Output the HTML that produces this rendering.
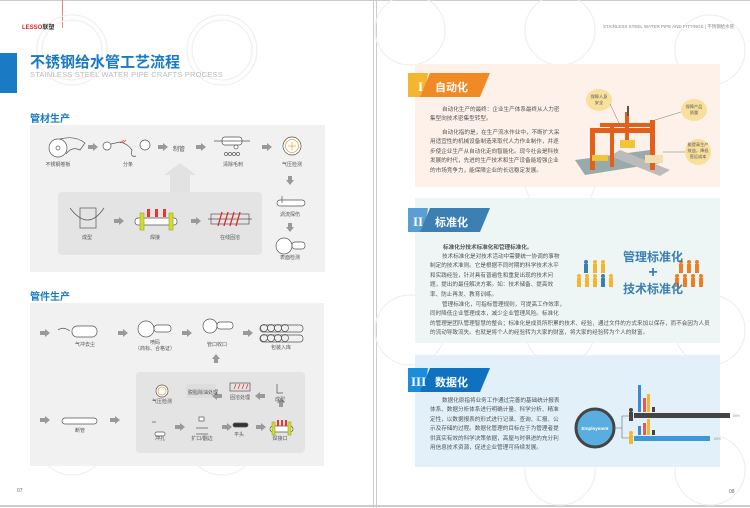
<!DOCTYPE html>
<html><head><meta charset="utf-8">
<style>
*{margin:0;padding:0;box-sizing:border-box}
body{width:750px;height:508px;position:relative;overflow:hidden;background:#fff;font-family:"Liberation Sans","Noto Sans CJK SC",sans-serif;color:#555}
.a{position:absolute}
.lbl{position:absolute;font-size:5px;color:#555;text-align:center;width:50px;margin-left:-25px;line-height:6px}
.t{position:absolute;font-size:5.6px;line-height:9.4px;color:#555}
</style></head><body>
<div class="a" style="left:0;top:0;width:750px;height:1px;background:#ccc"></div>
<div class="a" style="left:0;top:505px;width:750px;height:2px;background:#ccc"></div>
<div class="a" style="left:373px;top:0;width:1px;height:508px;background:#ccc"></div>
<div class="a" style="left:376px;top:0;width:1px;height:508px;background:#ccc"></div>
<div class="a" style="left:62px;top:0;width:1px;height:28px;background:#d88"></div>

<svg class="a" style="left:0;top:0" width="750" height="508">
<g fill="none" stroke="#efefef" stroke-width="1.2">
<circle cx="72" cy="50" r="35"/><circle cx="72" cy="50" r="30"/>
<circle cx="222" cy="50" r="35"/><circle cx="222" cy="50" r="30"/>
<circle cx="72" cy="200" r="35"/><circle cx="222" cy="200" r="35"/>
<circle cx="72" cy="350" r="35"/><circle cx="222" cy="350" r="35"/>
<circle cx="72" cy="440" r="35"/><circle cx="222" cy="440" r="35"/>
<circle cx="410" cy="30" r="35"/><circle cx="560" cy="30" r="35"/><circle cx="710" cy="50" r="35"/>
<circle cx="560" cy="180" r="35"/><circle cx="410" cy="330" r="35"/><circle cx="560" cy="330" r="35"/><circle cx="710" cy="330" r="35"/>
<circle cx="560" cy="470" r="35"/><circle cx="710" cy="470" r="35"/>
</g></svg>

<div class="a" style="left:22px;top:22px;font-size:6px;font-weight:bold;color:#d8262e">LESSO<span style="color:#333">联塑</span></div>
<div class="a" style="left:0;top:53px;width:17px;height:40px;background:#1a7ac4"></div>
<div class="a" style="left:30px;top:51px;font-size:15px;font-weight:bold;color:#1a7ac4">不锈钢给水管工艺流程</div>
<div class="a" style="left:30px;top:70px;font-size:7.5px;color:#bbb;letter-spacing:.2px">STAINLESS STEEL WATER PIPE CRAFTS PROCESS</div>
<div class="a" style="left:30px;top:110px;font-size:10px;font-weight:bold;color:#1a7ac4">管材生产</div>
<div class="a" style="left:30px;top:125px;width:295px;height:147px;background:#f1f1f1"></div>
<div class="a" style="left:58px;top:192px;width:204px;height:63px;background:#e4e4e4;border-radius:4px"></div>
<div class="a" style="left:30px;top:288px;font-size:10px;font-weight:bold;color:#1a7ac4">管件生产</div>
<div class="a" style="left:30px;top:303px;width:294px;height:163px;background:#f1f1f1"></div>
<div class="a" style="left:136px;top:372px;width:169px;height:81px;background:#e4e4e4;border-radius:4px"></div>
<div class="a" style="left:17px;top:488px;font-size:5px;color:#666">07</div>

<svg class="a" style="left:0;top:0" width="375" height="508">
<defs><g id="ar"><rect x="0" y="-2" width="6" height="4" fill="#999"/><polygon points="5,-4 10,0 5,4" fill="#999"/></g>
<g id="ad"><rect x="-2" y="0" width="4" height="5" fill="#999"/><polygon points="-4,4 0,9 4,4" fill="#999"/></g></defs>
<polygon points="170,192 170,175 164,175 180,163 196,175 190,175 190,192" fill="#e2e2e2"/>
<g stroke="#555" stroke-width=".7" fill="#fff">
<circle cx="58" cy="148" r="9"/><circle cx="58" cy="148" r="2"/><path d="M60 139 Q75 135 85 143 L80 150 Q72 146 66 154" fill="none"/>
<circle cx="107" cy="146" r="4"/><path d="M111 144 L120 142 Q128 144 132 150 Q130 158 136 156" fill="none"/><circle cx="145" cy="145" r="5"/>
<line x1="120" y1="143" x2="124" y2="140" stroke="#e33"/><line x1="123" y1="143" x2="126" y2="140" stroke="#e33"/>
<rect x="222" y="137" width="20" height="8" rx="3"/><line x1="214" y1="141" x2="250" y2="141"/><circle cx="236" cy="147" r="2"/>
<circle cx="226" cy="154" r="1.5"/><circle cx="230" cy="154" r="1.5"/><circle cx="234" cy="154" r="1.5"/><circle cx="238" cy="154" r="1.5"/>
<circle cx="292" cy="146" r="9"/><circle cx="292" cy="146" r="6.5" stroke="#e93"/><line x1="288" y1="146" x2="296" y2="146" stroke="#e93"/><line x1="292" y1="142" x2="292" y2="150" stroke="#e93"/>
<rect x="277" y="200" width="28" height="6" rx="3"/><line x1="282" y1="196" x2="282" y2="203"/>
<circle cx="284" cy="246" r="8"/><rect x="292" y="242" width="13" height="7" rx="3"/>
<path d="M70 208 Q88 232 104 208" fill="none"/><rect x="80" y="208" width="16" height="20" fill="none"/>
<rect x="135" y="218" width="42" height="7" rx="3"/><rect x="140" y="213" width="4" height="17" fill="#cd3" stroke="#aa2"/><rect x="169" y="213" width="4" height="17" fill="#cd3" stroke="#aa2"/>
<rect x="147" y="209" width="3" height="8" fill="#e33" stroke="none"/><rect x="155" y="209" width="3" height="8" fill="#e33" stroke="none"/><rect x="163" y="209" width="3" height="8" fill="#e33" stroke="none"/>
<rect x="211" y="214" width="38" height="10" fill="none"/><line x1="208" y1="219" x2="252" y2="219"/>
<path d="M218 226 L222 212 M224 226 L228 212 M230 226 L234 212 M236 226 L240 212" stroke="#e22" stroke-width="1.3"/>
<path d="M58 330 Q63 326 70 331" fill="none"/><rect x="72" y="326" width="25" height="11" rx="5"/>
<circle cx="146" cy="329" r="8"/><rect x="154" y="325" width="17" height="7" rx="3"/>
<circle cx="210" cy="326" r="7"/><rect x="217" y="322" width="16" height="7" rx="3"/>
<g fill="none"><rect x="260" y="325" width="43" height="7" rx="3"/><rect x="260" y="335" width="43" height="7" rx="3"/>
<circle cx="264" cy="328" r="3.5"/><circle cx="271" cy="328" r="3.5"/><circle cx="278" cy="328" r="3.5"/><circle cx="285" cy="328" r="3.5"/>
<circle cx="264" cy="338" r="3.5"/><circle cx="271" cy="338" r="3.5"/><circle cx="278" cy="338" r="3.5"/><circle cx="285" cy="338" r="3.5"/></g>
<circle cx="162" cy="391" r="6"/><circle cx="162" cy="391" r="4" stroke="#e93"/>
<rect x="186" y="384" width="30" height="14" rx="2" fill="#ddd" stroke="none"/>
<rect x="230" y="383" width="20" height="8" fill="none"/><path d="M234 389 L236 384 M238 389 L240 384 M242 389 L244 384 M246 389 L248 384" stroke="#e22"/>
<path d="M277 384 L277 393 L283 393" fill="none"/>
<rect x="62" y="418" width="35" height="6" rx="3"/>
<rect x="155" y="432" width="10" height="4" rx="2"/><line x1="152" y1="422" x2="156" y2="422"/>
<line x1="196" y1="428" x2="208" y2="428"/><line x1="196" y1="434" x2="208" y2="434"/><rect x="199" y="417" width="5" height="4"/>
<rect x="233" y="423" width="15" height="4" rx="2" fill="#333"/>
<rect x="270" y="426" width="23" height="6" rx="3"/><rect x="272" y="422" width="3" height="13" fill="#cd3" stroke="#aa2"/><rect x="288" y="422" width="3" height="13" fill="#cd3" stroke="#aa2"/>
<rect x="277" y="420" width="2" height="6" fill="#e33" stroke="none"/><rect x="281" y="420" width="2" height="6" fill="#e33" stroke="none"/><rect x="285" y="420" width="2" height="6" fill="#e33" stroke="none"/>
</g>
<use href="#ar" x="88" y="147"/><use href="#ar" x="158" y="147"/><use href="#ar" x="196" y="147"/><use href="#ar" x="262" y="147"/>
<use href="#ad" x="290" y="176"/><use href="#ad" x="290" y="223"/>
<use href="#ar" x="114" y="221"/><use href="#ar" x="191" y="221"/>
<use href="#ar" x="40" y="333"/><use href="#ar" x="118" y="333"/><use href="#ar" x="182" y="333"/><use href="#ar" x="243" y="333"/>
<g transform="rotate(180 216 358)"><use href="#ad" x="216" y="353"/></g>
<use href="#ar" x="212" y="396" transform="rotate(180 217 396)"/>
<use href="#ar" x="255" y="396" transform="rotate(180 260 396)"/>
<use href="#ar" x="40" y="420"/><use href="#ar" x="110" y="420"/><use href="#ar" x="175" y="427"/><use href="#ar" x="222" y="427"/><use href="#ar" x="256" y="427"/>
<g transform="rotate(180 281 403)"><use href="#ad" x="281" y="399"/></g>
</svg>
<div class="lbl" style="left:58px;top:162px">不锈钢卷板</div>
<div class="lbl" style="left:128px;top:162px">分条</div>
<div class="a" style="left:173px;top:144px;font-size:6px">制管</div>
<div class="lbl" style="left:233px;top:162px">清除毛刺</div>
<div class="lbl" style="left:292px;top:162px">气压检测</div>
<div class="lbl" style="left:290px;top:212px">涡流探伤</div>
<div class="lbl" style="left:290px;top:255px">表面检测</div>
<div class="lbl" style="left:87px;top:235px">成型</div>
<div class="lbl" style="left:155px;top:235px">焊接</div>
<div class="lbl" style="left:230px;top:235px">在线固溶</div>
<div class="lbl" style="left:85px;top:342px">气冲去尘</div>
<div class="lbl" style="left:155px;top:340px">喷码<br>（商标、合格证）</div>
<div class="lbl" style="left:217px;top:342px">管口收口</div>
<div class="lbl" style="left:281px;top:345px">包装入库</div>
<div class="lbl" style="left:162px;top:399px">气压检测</div>
<div class="a" style="left:188px;top:389px;font-size:5px">脱脂除油处理</div>
<div class="lbl" style="left:240px;top:395px">固溶处理</div>
<div class="lbl" style="left:280px;top:397px">成型</div>
<div class="lbl" style="left:80px;top:428px">断管</div>
<div class="lbl" style="left:160px;top:436px">冲孔</div>
<div class="lbl" style="left:202px;top:436px">扩口/翻边</div>
<div class="lbl" style="left:239px;top:432px">平头</div>
<div class="lbl" style="left:280px;top:436px">焊接口</div>

<div class="a" style="left:603px;top:24px;font-size:4.5px;color:#888">STAINLESS STEEL WATER PIPE AND FITTINGS | 不锈钢给水管</div>
<div class="a" style="left:415px;top:64px;width:305px;height:123px;background:#fdf1e9"></div>
<div class="a" style="left:415px;top:198px;width:305px;height:145px;background:#eef6f5"></div>
<div class="a" style="left:415px;top:355px;width:305px;height:112px;background:#e1f0f9"></div>

<svg class="a" style="left:0;top:0" width="750" height="508">
<polygon points="408,73 428,73 424,97 408,97" fill="#f5b52f"/><polygon points="430,73 490,73 480,97 420,97" fill="#f08a24"/>
<polygon points="408,208 428,208 424,232 408,232" fill="#5a9fd4"/><polygon points="430,208 490,208 480,232 420,232" fill="#3b7fb3"/>
<polygon points="408,368 428,368 424,392 408,392" fill="#1a8ed9"/><polygon points="430,368 490,368 480,392 420,392" fill="#0f72c0"/>
<text x="418" y="91" font-size="13" font-weight="bold" fill="#fff" font-family="Liberation Serif">I</text>
<text x="413" y="226" font-size="13" font-weight="bold" fill="#fff" font-family="Liberation Serif">II</text>
<text x="411" y="386" font-size="13" font-weight="bold" fill="#fff" font-family="Liberation Serif">III</text>
<polygon points="575,160 650,150 660,163 585,175" fill="#9aa"/>
<polygon points="620,150 670,170 660,176 610,156" fill="#bbb"/>
<g fill="#e0601c"><rect x="590" y="130" width="5" height="40"/><rect x="610" y="125" width="4" height="42"/><rect x="650" y="120" width="5" height="50"/>
<rect x="590" y="128" width="65" height="5"/><rect x="625" y="112" width="4" height="35"/><rect x="600" y="123" width="55" height="4"/></g>
<rect x="627" y="106" width="2" height="10" fill="#555"/>
<rect x="620" y="140" width="15" height="8" fill="#f2c43a"/><rect x="592" y="155" width="16" height="6" fill="#f2c43a"/>
<rect x="645" y="155" width="18" height="8" fill="#f3deb0"/>
<g fill="#f8df9c"><ellipse cx="599" cy="100" rx="13" ry="11"/><ellipse cx="694" cy="110" rx="13" ry="11"/><ellipse cx="698" cy="152" rx="13" ry="13"/></g>
<g stroke="#777" stroke-width=".5"><line x1="610" y1="104" x2="620" y2="125"/><line x1="681" y1="112" x2="655" y2="120"/><line x1="685" y1="152" x2="663" y2="152"/></g>
<g font-size="4.2" fill="#555" text-anchor="middle"><text x="599" y="98">保障人身</text><text x="599" y="104">安全</text>
<text x="694" y="108">保障产品</text><text x="694" y="114">质量</text><text x="698" y="146">能提高生产</text><text x="698" y="152">效益，降低</text><text x="698" y="158">营运成本</text></g>
<g fill="#3d7eb0"><circle cx="586" cy="262" r="2"/><rect x="584" y="264" width="4" height="9"/><circle cx="603" cy="276" r="2"/><rect x="601" y="278" width="4" height="9"/></g>
<g fill="#f5b52f"><circle cx="595" cy="262" r="2"/><rect x="593" y="264" width="4" height="9"/><circle cx="603" cy="262" r="2"/><rect x="601" y="264" width="4" height="9"/>
<circle cx="579" cy="276" r="2"/><rect x="577" y="278" width="4" height="9"/><circle cx="587" cy="276" r="2"/><rect x="585" y="278" width="4" height="9"/><circle cx="595" cy="276" r="2"/><rect x="593" y="278" width="4" height="9"/><circle cx="611" cy="276" r="2"/><rect x="609" y="278" width="4" height="9"/></g>
<g fill="#ef7d22"><circle cx="681" cy="262" r="2"/><rect x="679" y="264" width="4" height="9"/><circle cx="689" cy="262" r="2"/><rect x="687" y="264" width="4" height="9"/><circle cx="697" cy="262" r="2"/><rect x="695" y="264" width="4" height="9"/>
<circle cx="677" cy="276" r="2"/><rect x="675" y="278" width="4" height="9"/><circle cx="685" cy="276" r="2"/><rect x="683" y="278" width="4" height="9"/><circle cx="693" cy="276" r="2"/><rect x="691" y="278" width="4" height="9"/><circle cx="701" cy="276" r="2"/><rect x="699" y="278" width="4" height="9"/></g>
<circle cx="595" cy="428" r="19" fill="#5aaedf" stroke="#444" stroke-width="3"/>
<text x="595" y="430" font-size="4.5" font-weight="bold" fill="#fff" text-anchor="middle">Employment</text>
<path d="M614 428 L622 428 M622 416 L622 438 M622 416 L630 416 M622 438 L630 438" stroke="#666" stroke-width=".6" fill="none"/>
<rect x="634" y="413" width="96" height="5" fill="#444"/><rect x="634" y="436" width="76" height="5" fill="#3a9ad9"/>
<circle cx="631" cy="410" r="2" fill="#444"/><rect x="629" y="412" width="4" height="9" fill="#444"/>
<circle cx="631" cy="433" r="2" fill="#f5b52f"/><rect x="629" y="435" width="4" height="9" fill="#f5b52f"/>
<rect x="638" y="385" width="3" height="27" fill="#3a8ad0"/><rect x="643" y="398" width="3" height="14" fill="#e55"/><rect x="647" y="394" width="3" height="18" fill="#f5b52f"/><rect x="652" y="407" width="3" height="5" fill="#444"/>
<rect x="638" y="426" width="3" height="9" fill="#3a8ad0"/><rect x="643" y="423" width="3" height="12" fill="#e55"/><rect x="647" y="419" width="3" height="16" fill="#f5b52f"/><rect x="652" y="430" width="3" height="5" fill="#444"/>
<text x="733" y="417" font-size="3.5" fill="#999">85%</text><text x="714" y="440" font-size="3.5" fill="#999">65%</text>
</svg>
<div class="a" style="left:435px;top:79px;font-size:11px;font-weight:bold;color:#fff">自动化</div>
<div class="a" style="left:435px;top:214px;font-size:11px;font-weight:bold;color:#fff">标准化</div>
<div class="a" style="left:435px;top:374px;font-size:11px;font-weight:bold;color:#fff">数据化</div>
<div class="t" style="left:430px;top:106px;width:130px;text-indent:12px">自动化生产的最终：企业生产体系最终从人力密集型向技术密集型转型。</div>
<div class="t" style="left:430px;top:129px;width:130px;text-indent:12px">自动化指的是，在生产流水作业中，不断扩大采用适宜性的机械设备制造来取代人力作业制作，并逐步使企业生产从自动化走向智能化。现今社会是科技发展的时代，先进的生产技术和生产设备能增强企业的市场竞争力，能保障企业的长远稳定发展。</div>
<div class="a" style="left:443px;top:243px;font-size:5.6px;font-weight:bold;color:#555">标准化分技术标准化和管理标准化。</div>
<div class="t" style="left:430px;top:253px;width:130px;text-indent:12px">技术标准化是对技术活动中需要统一协调的事物制定的技术准则。它是根据不同时期的科学技术水平和实践经验，针对具有普遍性和重复出现的技术问题，提出的最佳解决方案。如：技术储备、提高效率、防止再发、教育训练。</div>
<div class="t" style="left:430px;top:301px;width:280px"><span style="padding-left:12px">管理标准化，可指标管理规则，可提高工作效率，</span><br>同时降低企业管理成本，减少企业管理风险。标准化<br>的管理是团队管理智慧的整合；标准化是成员所积累的技术、经验，通过文件的方式来加以保存，而不会因为人员的流动导致流失。也就是将个人的经验转为大家的财富，将大家的经验转为个人的财富。</div>
<div class="a" style="left:613px;top:249px;font-size:12px;font-weight:bold;color:#3b7fb3;text-align:center;width:80px;line-height:16px">管理标准化<br><span style="font-size:16px">+</span><br>技术标准化</div>
<div class="t" style="left:430px;top:397px;width:130px;text-indent:12px">数据化原指将业务工作通过完善的基础统计报表体系、数据分析体系进行明确计量、科学分析、精准定性，以数据报表的形式进行记录、查询、汇报、公示及存储的过程。数据化管理的目标在于为管理者提供真实有效的科学决策依据，高屋与时俱进的充分利用信息技术资源，促进企业管理可持续发展。</div>
<div class="a" style="left:729px;top:489px;font-size:5px;color:#666">08</div>
</body></html>
